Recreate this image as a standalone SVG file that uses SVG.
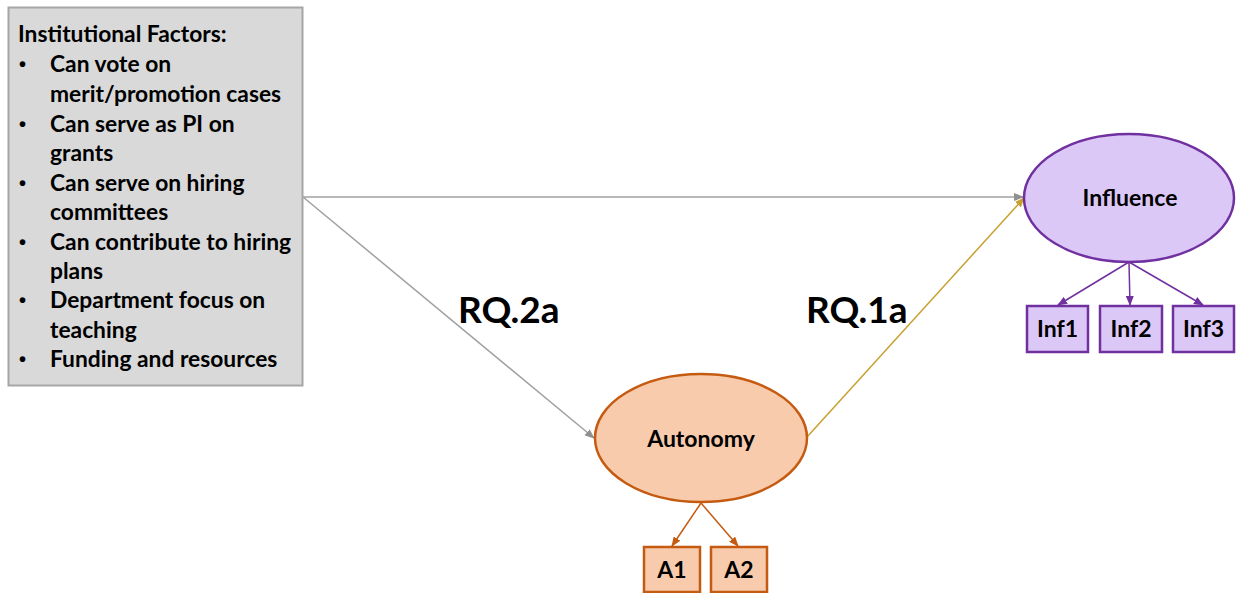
<svg xmlns="http://www.w3.org/2000/svg" width="1236" height="593" viewBox="0 0 1236 593">
<style>
text{font-family:Lato,"Open Sans","Liberation Sans",sans-serif;font-weight:bold;fill:#000}
.list{font-size:22.8px}
.bul{font-family:"Liberation Sans",sans-serif;font-size:20px}
.node{font-size:23px}
.rq{font-size:37px}
.gray{stroke:#a0a0a0;stroke-width:1.5;fill:none}
.gold{stroke:#c9a030;stroke-width:1.5;fill:none}
.purp{stroke:#7030a0;stroke-width:1.5;fill:none}
.orng{stroke:#c55a11;stroke-width:1.5;fill:none}
</style>
<defs>
<marker id="mg" markerWidth="10" markerHeight="8" refX="9" refY="4" orient="auto" markerUnits="userSpaceOnUse"><path d="M0,0 L10,4 L0,8 z" fill="#909090"/></marker>
<marker id="my" markerWidth="10" markerHeight="8" refX="9" refY="4" orient="auto" markerUnits="userSpaceOnUse"><path d="M0,0 L10,4 L0,8 z" fill="#c9a030"/></marker>
<marker id="mp" markerWidth="10" markerHeight="8" refX="9" refY="4" orient="auto" markerUnits="userSpaceOnUse"><path d="M0,0 L10,4 L0,8 z" fill="#7030a0"/></marker>
<marker id="mo" markerWidth="10" markerHeight="8" refX="9" refY="4" orient="auto" markerUnits="userSpaceOnUse"><path d="M0,0 L10,4 L0,8 z" fill="#c55a11"/></marker>
</defs>
<rect width="1236" height="593" fill="#fff"/>
<g id="connectors">
<line class="gray" x1="303" y1="197" x2="1023" y2="197" marker-end="url(#mg)"/>
<line class="gray" x1="303" y1="197" x2="594" y2="438" marker-end="url(#mg)"/>
<line class="gold" x1="807" y1="437" x2="1024" y2="198" marker-end="url(#my)"/>
<line class="purp" x1="1129" y1="262" x2="1058" y2="305" marker-end="url(#mp)"/>
<line class="purp" x1="1129" y1="262" x2="1130" y2="305" marker-end="url(#mp)"/>
<line class="purp" x1="1129" y1="262" x2="1203" y2="305" marker-end="url(#mp)"/>
<line class="orng" x1="701" y1="503" x2="672" y2="546" marker-end="url(#mo)"/>
<line class="orng" x1="701" y1="503" x2="738" y2="546" marker-end="url(#mo)"/>
</g>
<g id="factors">
<rect x="8.5" y="7.5" width="294" height="378" fill="#d9d9d9" stroke="#a6a6a6" stroke-width="2"/>
<text class="list" x="18" y="42">Institutional Factors:</text>
<text class="bul" x="19" y="71">•</text><text class="list" x="50" y="72">Can vote on</text>
<text class="list" x="50" y="102">merit/promotion cases</text>
<text class="bul" x="19" y="131">•</text><text class="list" x="50" y="132">Can serve as PI on</text>
<text class="list" x="50" y="161">grants</text>
<text class="bul" x="19" y="190">•</text><text class="list" x="50" y="191">Can serve on hiring</text>
<text class="list" x="50" y="220">committees</text>
<text class="bul" x="19" y="249">•</text><text class="list" x="50" y="250">Can contribute to hiring</text>
<text class="list" x="50" y="279">plans</text>
<text class="bul" x="19" y="307">•</text><text class="list" x="50" y="308">Department focus on</text>
<text class="list" x="50" y="338">teaching</text>
<text class="bul" x="19" y="366">•</text><text class="list" x="50" y="367">Funding and resources</text>
</g>
<g id="rq2a"><text class="rq" x="458" y="323">RQ.2a</text></g>
<g id="rq1a"><text class="rq" x="806" y="323">RQ.1a</text></g>
<g id="autonomy">
<ellipse cx="701" cy="438" rx="106" ry="64" fill="#f8cbad" stroke="#c55a11" stroke-width="2.5"/>
<text class="node" x="701" y="447" text-anchor="middle">Autonomy</text>
</g>
<g id="influence">
<ellipse cx="1129" cy="198" rx="105" ry="64" fill="#dcc8f6" stroke="#7030a0" stroke-width="2.5"/>
<text class="node" x="1130" y="206" text-anchor="middle">Influence</text>
</g>
<g id="inf1"><rect x="1027" y="306" width="61" height="46" fill="#dcc8f6" stroke="#7030a0" stroke-width="2.5"/><text class="node" x="1057.5" y="337" text-anchor="middle">Inf1</text></g>
<g id="inf2"><rect x="1100" y="306" width="62" height="46" fill="#dcc8f6" stroke="#7030a0" stroke-width="2.5"/><text class="node" x="1131" y="337" text-anchor="middle">Inf2</text></g>
<g id="inf3"><rect x="1173" y="306" width="61" height="46" fill="#dcc8f6" stroke="#7030a0" stroke-width="2.5"/><text class="node" x="1203.5" y="337" text-anchor="middle">Inf3</text></g>
<g id="a1"><rect x="644" y="547" width="56" height="45" fill="#f8cbad" stroke="#c55a11" stroke-width="2.5"/><text class="node" x="672" y="578" text-anchor="middle">A1</text></g>
<g id="a2"><rect x="711" y="547" width="56" height="45" fill="#f8cbad" stroke="#c55a11" stroke-width="2.5"/><text class="node" x="739" y="578" text-anchor="middle">A2</text></g>
</svg>
